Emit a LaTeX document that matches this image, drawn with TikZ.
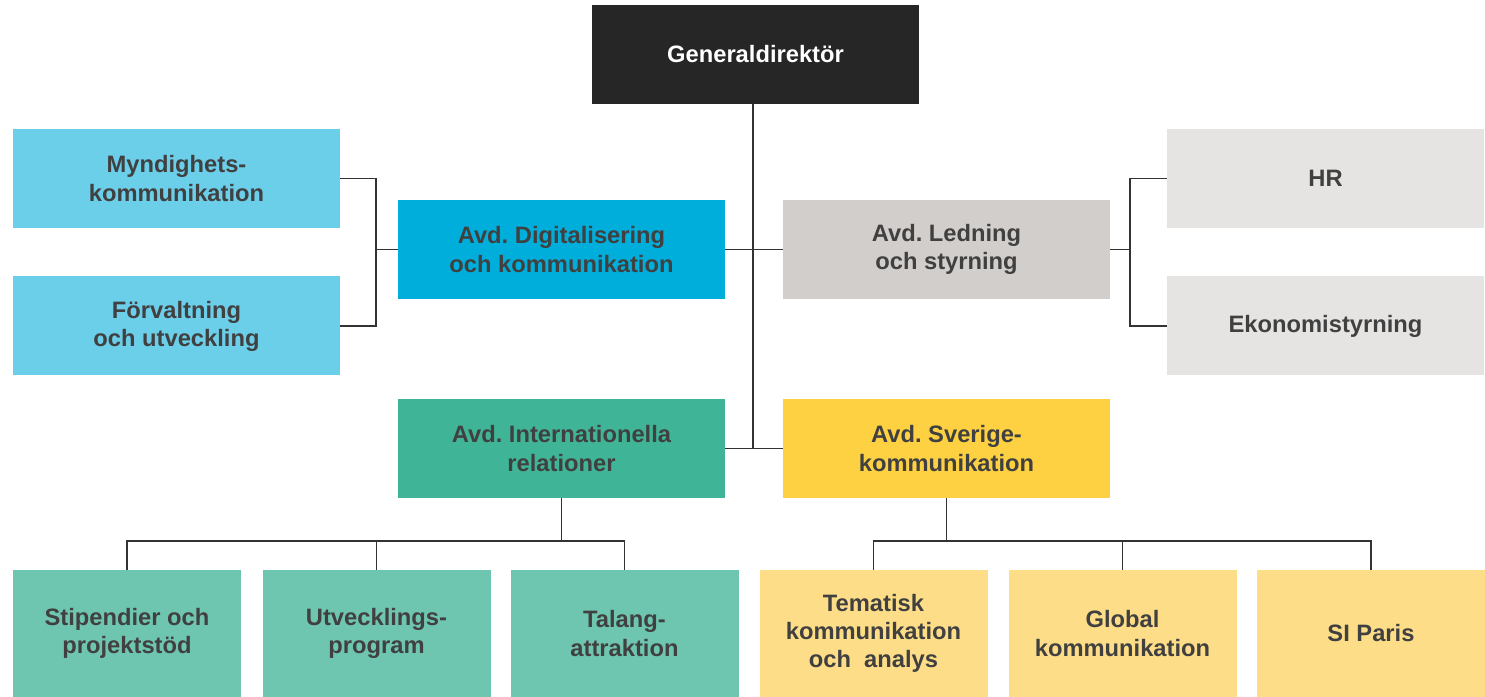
\documentclass[tikz,border=0pt]{standalone}
\usepackage{fontspec}
\setmainfont{Liberation Sans}
\frenchspacing
\definecolor{gdblack}{HTML}{262626}
\definecolor{digblue}{HTML}{00AEDB}
\definecolor{digsub}{HTML}{6CCFEA}
\definecolor{ledgrey}{HTML}{D2CECB}
\definecolor{ledsub}{HTML}{E6E4E2}
\definecolor{irteal}{HTML}{3FB497}
\definecolor{irsub}{HTML}{6FC6B0}
\definecolor{sveyellow}{HTML}{FED142}
\definecolor{svesub}{HTML}{FDDD87}
\definecolor{txtgrey}{HTML}{404040}
\definecolor{linegrey}{HTML}{333333}
\tikzset{
  box/.style={rectangle, inner sep=0pt, text=txtgrey, align=center,
    font=\fontsize{13.5}{16}\selectfont\bfseries,
    minimum width=65.4mm, minimum height=19.8mm},
  subbox/.style={box, minimum width=45.6mm, minimum height=25.4mm},
  link/.style={draw=linegrey, line width=0.6pt}
}
\begin{document}
\begin{tikzpicture}[x=0.2mm,y=-0.2mm]
\useasboundingbox (0,0) rectangle (1485,697);
% top
\node[box,fill=gdblack,text=white] (gd) at (755.5,54.5) {Generaldirektör};
% departments
\node[box,fill=digblue] (dig) at (561.5,249.5) {Avd. Digitalisering\\och kommunikation};
\node[box,fill=ledgrey] (led) at (946.5,249.5) {Avd. Ledning\\och styrning};
\node[box,fill=irteal] (ir) at (561.5,448.5) {Avd. Internationella\\relationer};
\node[box,fill=sveyellow] (sve) at (946.5,448.5) {Avd. Sverige-\\kommunikation};
% units beside
\node[box,fill=digsub] (myn) at (176.5,178.5) {Myndighets-\\kommunikation};
\node[box,fill=digsub] (forv) at (176.5,326) {Förvaltning\\och utveckling};
\node[box,fill=ledsub,minimum width=63.4mm] (hr) at (1325.5,178.5) {HR};
\node[box,fill=ledsub,minimum width=63.4mm] (eko) at (1325.5,326) {Ekonomistyrning};
% units below
\node[subbox,fill=irsub] (stip) at (127,633.5) {Stipendier och\\projektstöd};
\node[subbox,fill=irsub] (utv) at (376.5,633.5) {Utvecklings-\\program};
\node[subbox,fill=irsub] (tal) at (624.5,633.5) {Talang-\\attraktion};
\node[subbox,fill=svesub] (tem) at (873.5,633.5) {Tematisk\\kommunikation\\och\ \ analys};
\node[subbox,fill=svesub] (glob) at (1122.5,633.5) {Global\\kommunikation};
\node[subbox,fill=svesub] (sip) at (1371,633.5) {SI Paris};

\coordinate (mid) at (753,449);
\coordinate (lj) at (376,249.5);
\coordinate (rj) at (1130,249.5);
\coordinate (irb) at (561.5,541);
\coordinate (sveb) at (946.5,541);

\draw[link] (gd.south -| mid) -- (mid);
\draw[link] (dig.east) -- (led.west);
\draw[link] (ir.east) -- (sve.west);
\draw[link] (myn.east) -| (lj) |- (forv.east);
\draw[link] (lj) -- (dig.west);
\draw[link] (hr.west) -| (rj) |- (eko.west);
\draw[link] (rj) -- (led.east);
\draw[link] (ir.south) -- (irb);
\draw[link] (stip.north) |- (irb) -| (tal.north);
\draw[link] (utv.north) -- (utv.north |- irb);
\draw[link] (sve.south) -- (sveb);
\draw[link] (tem.north) |- (sveb) -| (sip.north);
\draw[link] (glob.north) -- (glob.north |- sveb);
\end{tikzpicture}
\end{document}
